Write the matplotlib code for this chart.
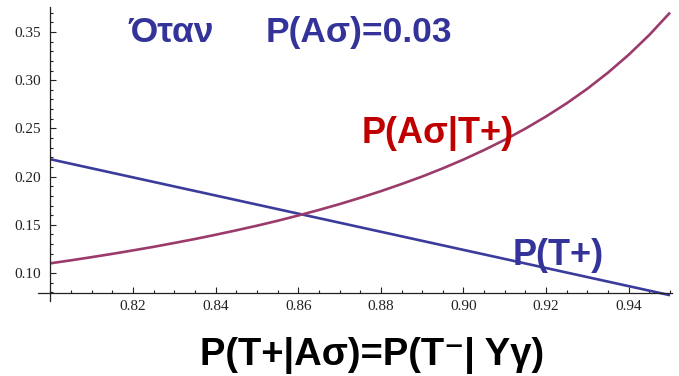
import matplotlib
matplotlib.use("Agg")
import matplotlib.pyplot as plt
from matplotlib.ticker import MultipleLocator, FormatStrFormatter

# Sensitivity = specificity along the x axis, prevalence P(Aσ)=0.03
sens = [0.800, 0.805, 0.810, 0.815, 0.820, 0.825, 0.830, 0.835,
        0.840, 0.845, 0.850, 0.855, 0.860, 0.865, 0.870, 0.875,
        0.880, 0.885, 0.890, 0.895, 0.900, 0.905, 0.910, 0.915,
        0.920, 0.925, 0.930, 0.935, 0.940, 0.945, 0.950]
p_sick_given_pos = [0.1101, 0.1132, 0.1165, 0.1199, 0.1235, 0.1272, 0.1312, 0.1353,
                    0.1397, 0.1443, 0.1491, 0.1542, 0.1597, 0.1654, 0.1715, 0.1780,
                    0.1849, 0.1923, 0.2001, 0.2086, 0.2177, 0.2276, 0.2382, 0.2498,
                    0.2624, 0.2761, 0.2912, 0.3079, 0.3264, 0.3470, 0.3701]

# P(T+) is a straight line
sens_line = [0.80, 0.95]
p_pos_test = [0.218, 0.077]

title_left = "Όταν"
title_right = "P(Aσ)=0.03"
bottom_text = "P(T+|Aσ)=P(T⁻| Yγ)"
label_post = "P(Aσ|T+)"
label_pos = "P(T+)"

W, H = 679, 376
fig = plt.figure(figsize=(W / 100, H / 100), dpi=100)


def px(x, y):
    # pixel position -> figure fraction
    return x / W, 1 - y / H


ax = fig.add_axes([50.4 / W, 1 - 293 / H, 621.3 / W, 286 / H])

ax.plot(sens_line, p_pos_test, color="#3b3b9b", lw=1.9, clip_on=False, solid_capstyle="butt")
ax.plot(sens, p_sick_given_pos, color="#9b3b6b", lw=1.9, clip_on=False, solid_capstyle="butt")

ax.set_xlim(0.80, 0.9504)
ax.set_ylim(0.0793, 0.3759)

for s in ["top", "right"]:
    ax.spines[s].set_visible(False)
ax.spines["left"].set_bounds(0.071, 0.3759)
ax.spines["bottom"].set_bounds(0.7969, 0.9504)
for s in ["left", "bottom"]:
    ax.spines[s].set_linewidth(0.9)
    ax.spines[s].set_color("#222222")

ax.xaxis.set_minor_locator(MultipleLocator(0.005))
ax.yaxis.set_minor_locator(MultipleLocator(0.01))
ax.xaxis.set_major_formatter(FormatStrFormatter("%.2f"))
ax.yaxis.set_major_formatter(FormatStrFormatter("%.2f"))
ax.set_xticks([0.82, 0.84, 0.86, 0.88, 0.90, 0.92, 0.94])
ax.set_yticks([0.10, 0.15, 0.20, 0.25, 0.30, 0.35])

ax.tick_params(which="both", direction="in", width=0.8, color="#222222")
ax.tick_params(which="major", length=4.5)
ax.tick_params(which="minor", length=2.5)
ax.tick_params(axis="y", pad=7)
ax.tick_params(axis="x", pad=5)
for lab in ax.get_xticklabels() + ax.get_yticklabels():
    lab.set_family("Liberation Serif")
    lab.set_fontsize(11)
    lab.set_color("#222222")

fonts = ["Liberation Sans", "DejaVu Sans"]
fig.text(*px(128, 42), title_left, color="#333399", fontsize=25.5,
         fontweight="bold", family=fonts, ha="left", va="baseline")
fig.text(*px(266, 42), title_right, color="#333399", fontsize=25.5,
         fontweight="bold", family=fonts, ha="left", va="baseline")
fig.text(*px(362, 143), label_post, color="#c00000", fontsize=26,
         fontweight="bold", family=fonts, ha="left", va="baseline")
fig.text(*px(513, 265), label_pos, color="#333399", fontsize=26,
         fontweight="bold", family=fonts, ha="left", va="baseline")
fig.text(*px(372, 365), bottom_text, color="black", fontsize=27.5,
         fontweight="bold", family=fonts, ha="center", va="baseline")

fig.savefig("out.png", dpi=100)
